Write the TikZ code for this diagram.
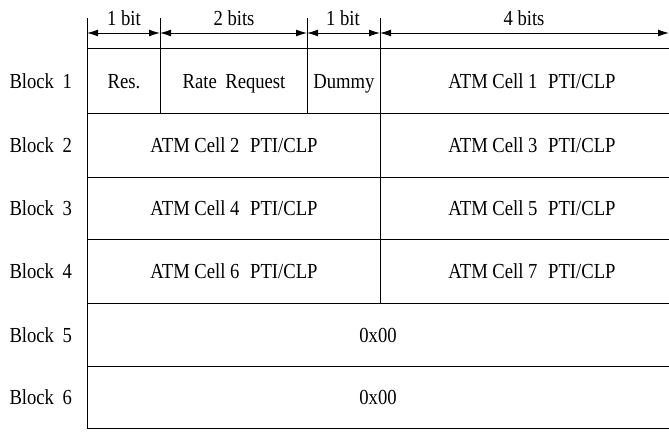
\documentclass[tikz,border=0pt]{standalone}
\usepackage{fontspec}
\setmainfont[FakeStretch=0.87]{Liberation Serif}
\usetikzlibrary{arrows.meta}
\begin{document}
\begin{tikzpicture}[x=1bp,y=-1bp,line width=1bp,
  lbl/.style={inner sep=0pt,anchor=base,font=\fontsize{21.5}{24}\selectfont},
  rule/.style={line width=1bp,black},
  dim/.style={{Latex[length=11bp,width=7bp]}-{Latex[length=11bp,width=7bp]},line width=1bp}]
\useasboundingbox (0,0) rectangle (669,431);
% column coordinates (top ticks, arrow line, table)
\coordinate (k0) at (87,18);  \coordinate (k1) at (160,18);
\coordinate (k2) at (307,18); \coordinate (k3) at (380,18);
\coordinate (a0) at (87,33);  \coordinate (a1) at (160,33);
\coordinate (a2) at (307,33); \coordinate (a3) at (380,33);
\coordinate (a4) at (669,33);
% row lines
\coordinate (r0) at (87,48);  \coordinate (r0e) at (669,48);
\coordinate (r1) at (87,113); \coordinate (r1e) at (669,113);
\coordinate (r2) at (87,177); \coordinate (r2e) at (669,177);
\coordinate (r3) at (87,239); \coordinate (r3e) at (669,239);
\coordinate (r4) at (87,303); \coordinate (r4e) at (669,303);
\coordinate (r5) at (87,366); \coordinate (r5e) at (669,366);
\coordinate (r6) at (87,428); \coordinate (r6e) at (669,428);
% horizontal rules
\foreach \i in {0,...,6} \draw[rule] (r\i) -- (r\i e);
% vertical rules
\draw[rule] (k0) -- (r6);
\draw[rule] (k1) -- (160,113);
\draw[rule] (k2) -- (307,113);
\draw[rule] (k3) -- (380,303);
% dimension arrows
\draw[dim] (a0) -- (a1);
\draw[dim] (a1) -- (a2);
\draw[dim] (a2) -- (a3);
\draw[dim] (a3) -- (a4);
% dimension labels
\node[lbl] (b1) at (124,25) {1 bit};
\node[lbl] (b2) at (234,25) {2 bits};
\node[lbl] (b3) at (343,25) {1 bit};
\node[lbl] (b4) at (524,25) {4 bits};
% block labels
\node[lbl,anchor=base west] (L1) at (9,88) {Block\hspace{0.4em}1};
\node[lbl,anchor=base west] (L2) at (9,152) {Block\hspace{0.4em}2};
\node[lbl,anchor=base west] (L3) at (9,215) {Block\hspace{0.4em}3};
\node[lbl,anchor=base west] (L4) at (9,278) {Block\hspace{0.4em}4};
\node[lbl,anchor=base west] (L5) at (9,342) {Block\hspace{0.4em}5};
\node[lbl,anchor=base west] (L6) at (9,404) {Block\hspace{0.4em}6};
% cell texts
\node[lbl] (res) at (124,88) {Res.};
\node[lbl] (rate) at (234,88) {Rate\hspace{0.4em}Request};
\node[lbl] (dum) at (344,88) {Dummy};
\node[lbl] (c1) at (532,88) {ATM Cell 1\hspace{0.5em}PTI/CLP};
\node[lbl] (c2) at (234,152) {ATM Cell 2\hspace{0.5em}PTI/CLP};
\node[lbl] (c3) at (532,152) {ATM Cell 3\hspace{0.5em}PTI/CLP};
\node[lbl] (c4) at (234,215) {ATM Cell 4\hspace{0.5em}PTI/CLP};
\node[lbl] (c5) at (532,215) {ATM Cell 5\hspace{0.5em}PTI/CLP};
\node[lbl] (c6) at (234,278) {ATM Cell 6\hspace{0.5em}PTI/CLP};
\node[lbl] (c7) at (532,278) {ATM Cell 7\hspace{0.5em}PTI/CLP};
\node[lbl] (z5) at (378,342) {0x00};
\node[lbl] (z6) at (378,404) {0x00};
\end{tikzpicture}
\end{document}
